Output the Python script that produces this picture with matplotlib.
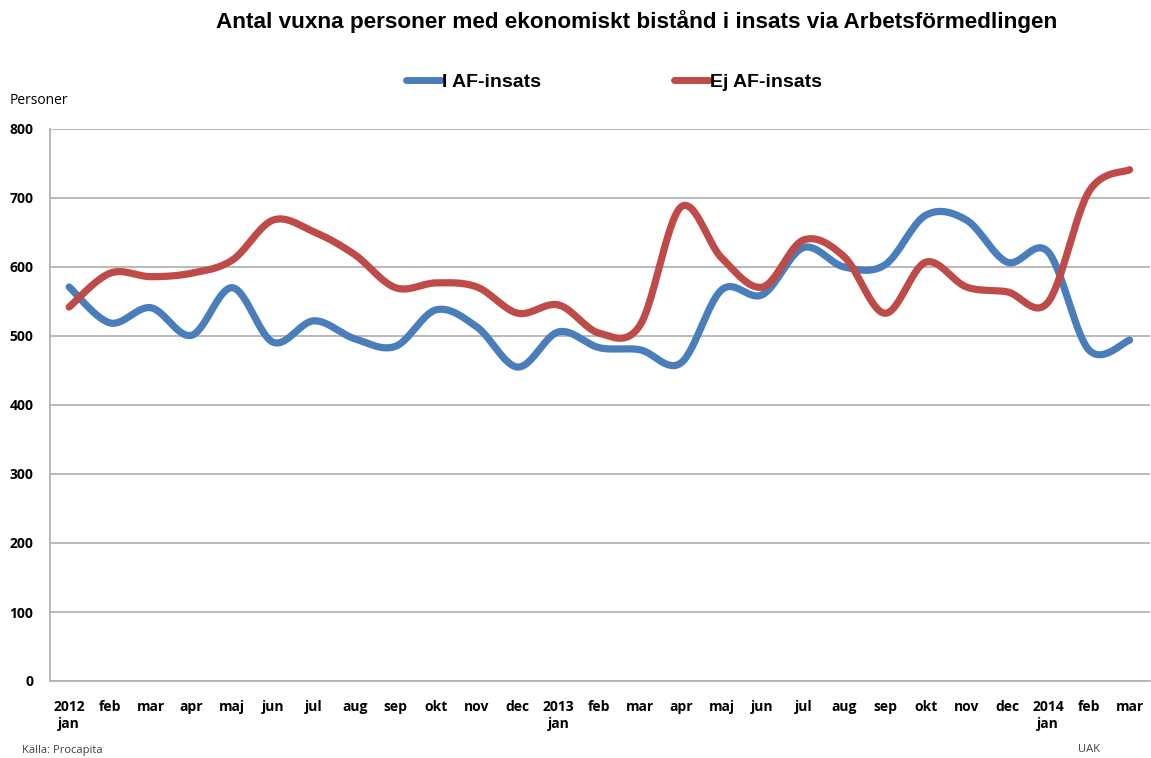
import numpy as np
import matplotlib.pyplot as plt

# Monthly values, jan 2012 - mar 2014
months = ['2012\njan', 'feb', 'mar', 'apr', 'maj', 'jun', 'jul', 'aug', 'sep', 'okt', 'nov', 'dec',
          '2013\njan', 'feb', 'mar', 'apr', 'maj', 'jun', 'jul', 'aug', 'sep', 'okt', 'nov', 'dec',
          '2014\njan', 'feb', 'mar']
i_af = [571, 519, 541, 501, 570, 491, 522, 496, 485, 538, 513, 455,
        506, 483, 480, 461, 567, 560, 628, 600, 603, 675, 668, 607,
        622, 480, 494]
ej_af = [542, 591, 586, 591, 610, 668, 651, 618, 570, 577, 571, 533,
         545, 504, 516, 687, 613, 571, 639, 615, 533, 607, 571, 564,
         549, 709, 741]

blue = '#4a7ebb'
red = '#be4b48'


# Excel-style smoothed line: cubic bezier with control points from neighbours (1/6 rule)
def smooth(x, y, n=30):
    x = np.asarray(x, float)
    y = np.asarray(y, float)
    xs, ys = [], []
    for i in range(len(x) - 1):
        i0 = max(i - 1, 0)
        i3 = min(i + 2, len(x) - 1)
        c1x = x[i] + (x[i + 1] - x[i0]) / 6
        c1y = y[i] + (y[i + 1] - y[i0]) / 6
        c2x = x[i + 1] - (x[i3] - x[i]) / 6
        c2y = y[i + 1] - (y[i3] - y[i]) / 6
        t = np.linspace(0, 1, n, endpoint=(i == len(x) - 2))
        a = (1 - t) ** 3
        b = 3 * (1 - t) ** 2 * t
        c = 3 * (1 - t) * t ** 2
        d = t ** 3
        xs.append(a * x[i] + b * c1x + c * c2x + d * x[i + 1])
        ys.append(a * y[i] + b * c1y + c * c2y + d * y[i + 1])
    return np.concatenate(xs), np.concatenate(ys)


fig = plt.figure(figsize=(11.51, 7.58), dpi=100)
ax = fig.add_axes([50 / 1151, 1 - 681 / 758, 1100 / 1151, 552 / 758])

x = np.arange(len(months))
for vals, col, name in [(i_af, blue, 'I AF-insats'), (ej_af, red, 'Ej AF-insats')]:
    sx, sy = smooth(x, vals)
    ax.plot(sx, sy, color=col, lw=5.2, solid_capstyle='round', label=name)

ax.set_xlim(-0.47, len(months) - 0.5)
ax.set_ylim(0, 800)
ax.set_yticks(range(0, 801, 100))
ax.set_xticks(x)
ax.set_xticklabels(months, fontfamily='Open Sans', fontweight='bold', fontsize=10,
                   linespacing=1.25, va='top')
for lab in ax.get_yticklabels():
    lab.set_fontfamily('Open Sans')
    lab.set_fontweight('bold')
    lab.set_fontsize(10)
ax.tick_params(axis='y', length=0, pad=12)
ax.tick_params(axis='x', length=0, pad=14)
ax.grid(axis='y', color='#b3b3b3', lw=1.3)
ax.set_axisbelow(True)
for s in ['top', 'right']:
    ax.spines[s].set_visible(False)
ax.spines['left'].set_color('#b3b3b3')
ax.spines['bottom'].set_color('#b3b3b3')
ax.spines['left'].set_linewidth(1.3)
ax.spines['bottom'].set_linewidth(1.3)

fig.text(637 / 1151, 1 - 22 / 758, 'Antal vuxna personer med ekonomiskt bistånd i insats via Arbetsförmedlingen',
         ha='center', va='center', fontfamily='Liberation Sans', fontweight='bold', fontsize=16.2)
fig.text(10 / 1151, 1 - 101 / 758, 'Personer', ha='left', va='center', fontfamily='Open Sans', fontsize=10)
fig.text(22 / 1151, 1 - 751 / 758, 'Källa: Procapita', ha='left', va='center', fontfamily='Open Sans',
         fontsize=8, color='#404040')
fig.text(1078 / 1151, 1 - 749 / 758, 'UAK', ha='left', va='center', fontfamily='Open Sans',
         fontsize=8, color='#404040')

leg = fig.legend(loc='center', bbox_to_anchor=(614 / 1151, 1 - 82 / 758), ncol=2, frameon=False,
                 prop={'family': 'Liberation Sans', 'weight': 'bold', 'size': 14},
                 handlelength=1.8, handletextpad=0.05, columnspacing=6.8)
for h in leg.get_lines():
    h.set_linewidth(5)

fig.savefig('out.png', dpi=100)
